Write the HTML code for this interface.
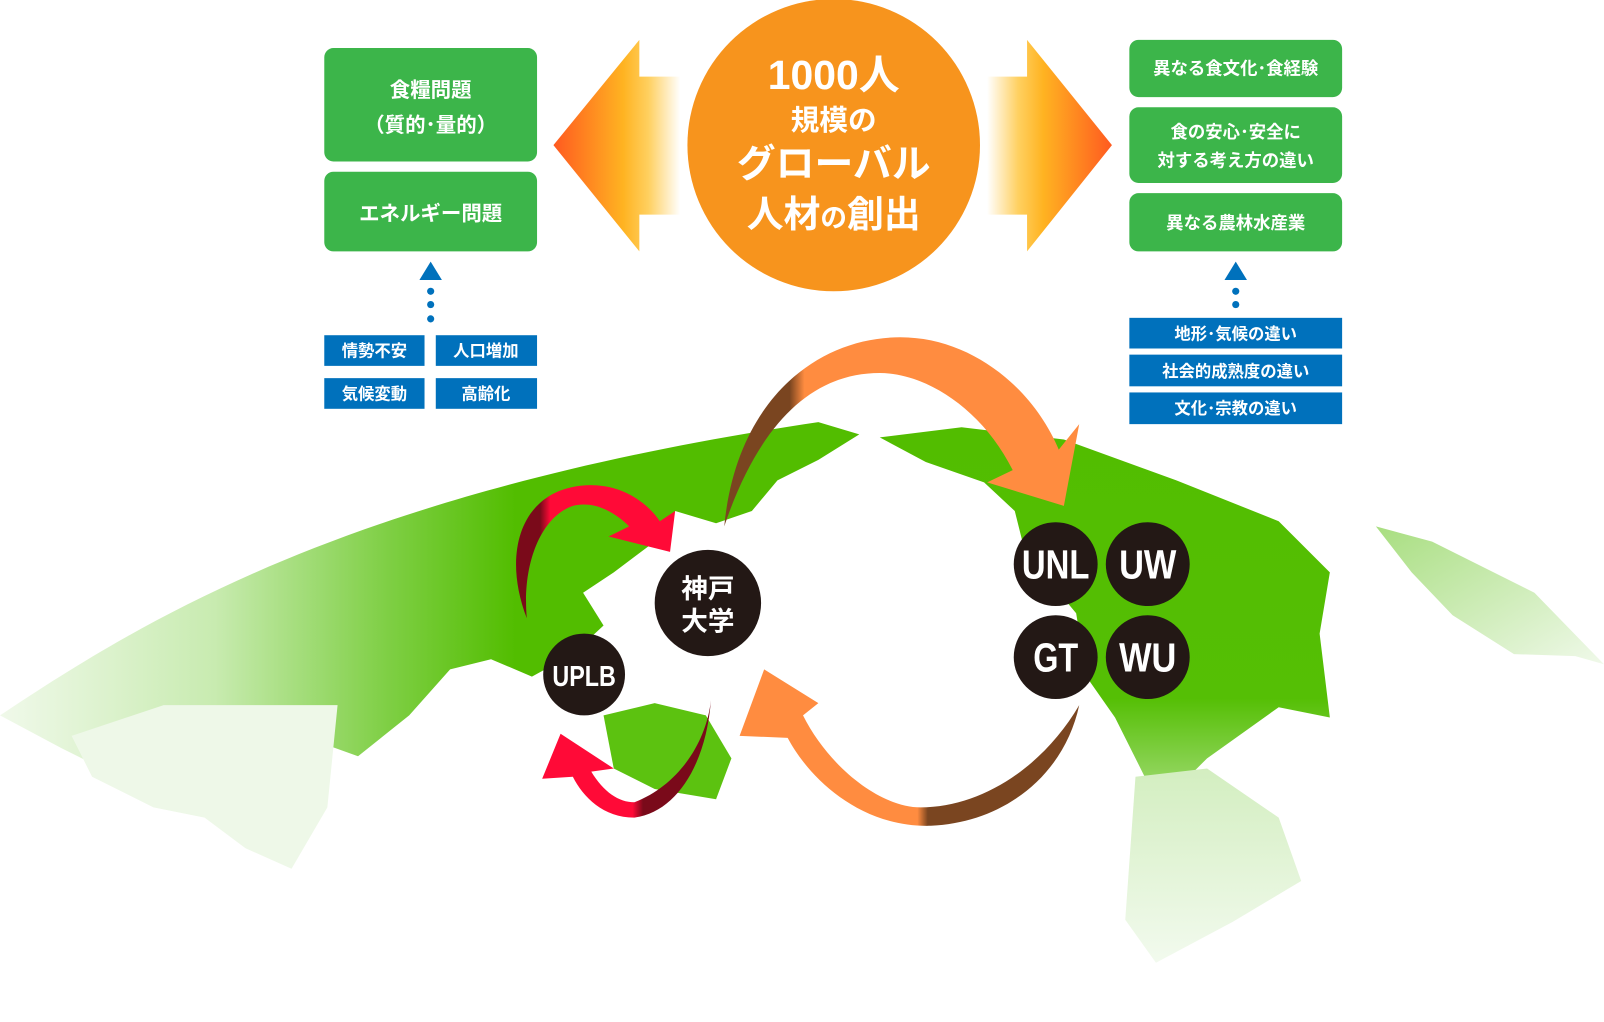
<!DOCTYPE html>
<html><head><meta charset="utf-8"><style>
html,body{margin:0;padding:0;background:#fff;}
svg{display:block;}
text{font-family:"Liberation Sans","Noto Sans CJK JP",sans-serif;font-weight:bold;}
</style></head><body>
<svg width="1604" height="1022" viewBox="0 0 1568 1000" preserveAspectRatio="none" xmlns="http://www.w3.org/2000/svg">
<defs>
<linearGradient id="eur" x1="0" y1="0" x2="1" y2="0">
<stop offset="0" stop-color="#f0f9ea"/><stop offset="0.25" stop-color="#c8ebb0"/><stop offset="0.45" stop-color="#7fcf45"/><stop offset="0.6" stop-color="#52bd00"/><stop offset="1" stop-color="#52bd00"/></linearGradient>
<linearGradient id="na" x1="0" y1="0" x2="0" y2="1">
<stop offset="0" stop-color="#52bd00"/><stop offset="0.75" stop-color="#55bf05"/><stop offset="1" stop-color="#9ad86a"/></linearGradient>
<linearGradient id="sa" x1="0" y1="0" x2="0" y2="1">
<stop offset="0" stop-color="#d3eec0"/><stop offset="1" stop-color="#f2faee"/></linearGradient>
<linearGradient id="gr" x1="0" y1="0" x2="1" y2="1">
<stop offset="0" stop-color="#a8de80"/><stop offset="1" stop-color="#f0f9ea"/></linearGradient>
<linearGradient id="la" x1="0" y1="0" x2="1" y2="0">
<stop offset="0" stop-color="#ff5a20"/><stop offset="0.55" stop-color="#ffb321"/><stop offset="0.75" stop-color="#ffd060"/><stop offset="1" stop-color="#fff"/></linearGradient>
<linearGradient id="ra" x1="1" y1="0" x2="0" y2="0">
<stop offset="0" stop-color="#ff5a20"/><stop offset="0.55" stop-color="#ffb321"/><stop offset="0.75" stop-color="#ffd060"/><stop offset="1" stop-color="#fff"/></linearGradient>
<linearGradient id="topArc" gradientUnits="userSpaceOnUse" x1="700" y1="0" x2="1060" y2="0">
<stop offset="0" stop-color="#7a4520"/><stop offset="0.2" stop-color="#7a4520"/><stop offset="0.24" stop-color="#ff8c40"/><stop offset="1" stop-color="#ff8c40"/></linearGradient>
<linearGradient id="botArc" gradientUnits="userSpaceOnUse" x1="720" y1="0" x2="1060" y2="0">
<stop offset="0" stop-color="#ff8c40"/><stop offset="0.52" stop-color="#ff8c40"/><stop offset="0.55" stop-color="#7a4520"/><stop offset="1" stop-color="#7a4520"/></linearGradient>
<linearGradient id="redTop" gradientUnits="userSpaceOnUse" x1="495" y1="0" x2="660" y2="0">
<stop offset="0" stop-color="#7a0a1a"/><stop offset="0.2" stop-color="#7a0a1a"/><stop offset="0.26" stop-color="#ff0a37"/><stop offset="1" stop-color="#ff0a37"/></linearGradient>
<linearGradient id="redBot" gradientUnits="userSpaceOnUse" x1="530" y1="0" x2="700" y2="0">
<stop offset="0" stop-color="#ff0a37"/><stop offset="0.52" stop-color="#ff0a37"/><stop offset="0.58" stop-color="#7a0a1a"/><stop offset="1" stop-color="#7a0a1a"/></linearGradient>
</defs>

<!-- map -->
<path d="M0,700 C150,600 350,480 800,413 L840,425 L800,450 L760,470 L735,500 L700,512 L660,500 L640,530 L600,560 L570,580 L590,612 L560,640 L520,662 L480,645 L440,655 L400,700 L350,740 L300,722 L250,705 L200,742 L120,762 L60,732 Z" fill="url(#eur)"/>
<path d="M70,720 L160,690 L330,690 L320,790 L285,850 L240,830 L200,800 L150,790 L90,760 Z" fill="#eef8e8"/>
<path d="M860,428 L940,418 L1040,430 L1150,470 L1250,510 L1300,560 L1290,620 L1300,702 L1250,692 L1180,742 L1150,772 L1120,762 L1090,702 L1062,662 L1052,600 L1002,540 L992,500 L962,472 L905,452 Z" fill="url(#na)"/>
<path d="M1110,760 L1180,752 L1250,800 L1272,862 L1205,902 L1130,942 L1100,900 Z" fill="url(#sa)"/>
<path d="M590,700 L640,688 L690,700 L715,742 L700,782 L640,772 L600,752 Z" fill="#5cc210"/>
<path d="M1345,515 L1400,530 L1500,580 L1568,650 L1540,642 L1480,640 L1420,602 L1380,560 Z" fill="url(#gr)"/>

<!-- top orange arrows -->
<polygon points="541,142 625,39 625,75 665,75 665,210 625,210 625,246" fill="url(#la)"/>
<polygon points="1087,142 1004,39 1004,75 965,75 965,210 1004,210 1004,246" fill="url(#ra)"/>

<!-- center circle -->
<circle cx="815" cy="142" r="143" fill="#f7941d"/>
<text x="815" y="87" fill="#fff" font-size="40" text-anchor="middle">1000人</text>
<text x="815" y="127" fill="#fff" font-size="28" text-anchor="middle">規模の</text>
<text x="815" y="173" fill="#fff" font-size="38" text-anchor="middle">グローバル</text>
<text x="815" y="222" fill="#fff" font-size="36" text-anchor="middle">人材<tspan font-size="26">の</tspan>創出</text>

<!-- left boxes -->
<rect x="317" y="47" width="208" height="111" rx="9" fill="#3cb54a"/>
<text x="421" y="95" fill="#fff" font-size="20" text-anchor="middle">食糧問題</text>
<text x="421" y="129" fill="#fff" font-size="20" text-anchor="middle">（質的･量的）</text>
<rect x="317" y="168" width="208" height="78" rx="9" fill="#3cb54a"/>
<text x="421" y="216" fill="#fff" font-size="20" text-anchor="middle">エネルギー問題</text>
<polygon points="421,256 410,274 432,274" fill="#0071bc"/>
<circle cx="421" cy="285" r="3.5" fill="#0071bc"/><circle cx="421" cy="298" r="3.5" fill="#0071bc"/><circle cx="421" cy="312" r="3.5" fill="#0071bc"/>
<rect x="317" y="328" width="98" height="30" fill="#0071bc"/><text x="366" y="349" fill="#fff" font-size="16" text-anchor="middle">情勢不安</text>
<rect x="426" y="328" width="99" height="30" fill="#0071bc"/><text x="475" y="349" fill="#fff" font-size="16" text-anchor="middle">人口増加</text>
<rect x="317" y="370" width="98" height="30" fill="#0071bc"/><text x="366" y="391" fill="#fff" font-size="16" text-anchor="middle">気候変動</text>
<rect x="426" y="370" width="99" height="30" fill="#0071bc"/><text x="475" y="391" fill="#fff" font-size="16" text-anchor="middle">高齢化</text>

<!-- right boxes -->
<rect x="1104" y="39" width="208" height="56" rx="9" fill="#3cb54a"/>
<text x="1208" y="73" fill="#fff" font-size="17" text-anchor="middle">異なる食文化･食経験</text>
<rect x="1104" y="105" width="208" height="74" rx="9" fill="#3cb54a"/>
<text x="1208" y="135" fill="#fff" font-size="17" text-anchor="middle">食の安心･安全に</text>
<text x="1208" y="163" fill="#fff" font-size="17" text-anchor="middle">対する考え方の違い</text>
<rect x="1104" y="189" width="208" height="57" rx="9" fill="#3cb54a"/>
<text x="1208" y="224" fill="#fff" font-size="17" text-anchor="middle">異なる農林水産業</text>
<polygon points="1208,256 1197,274 1219,274" fill="#0071bc"/>
<circle cx="1208" cy="285" r="3.5" fill="#0071bc"/><circle cx="1208" cy="298" r="3.5" fill="#0071bc"/>
<rect x="1104" y="311" width="208" height="30" fill="#0071bc"/><text x="1208" y="332" fill="#fff" font-size="16" text-anchor="middle">地形･気候の違い</text>
<rect x="1104" y="347" width="208" height="31" fill="#0071bc"/><text x="1208" y="369" fill="#fff" font-size="16" text-anchor="middle">社会的成熟度の違い</text>
<rect x="1104" y="384" width="208" height="31" fill="#0071bc"/><text x="1208" y="405" fill="#fff" font-size="16" text-anchor="middle">文化･宗教の違い</text>

<!-- curved arrows -->
<path d="M708,515 C720,390 800,330 880,330 C950,330 1010,380 1035,440 L1055,415 L1040,495 L965,472 L990,460 C960,400 905,365 860,365 C790,365 740,420 708,515 Z" fill="url(#topArc)"/>
<path d="M1055,690 C1040,760 980,805 910,808 C840,810 790,760 770,722 L723,720 L747,655 L800,688 L785,700 C810,750 860,790 900,790 C960,790 1020,750 1055,690 Z" fill="url(#botArc)"/>
<path d="M515,605 C490,540 510,480 570,475 C610,472 635,495 645,510 L660,500 L655,540 L595,525 L615,515 C600,500 580,490 560,495 C530,505 510,550 515,605 Z" fill="url(#redTop)"/>
<path d="M695,685 C690,750 660,795 620,800 C590,800 570,780 560,760 L530,762 L548,718 L600,752 L578,755 C590,775 605,785 620,785 C660,770 690,730 695,685 Z" fill="url(#redBot)"/>

<!-- universities -->
<circle cx="692" cy="590" r="52" fill="#231815"/>
<text x="692" y="585" fill="#fff" font-size="26" text-anchor="middle">神戸</text>
<text x="692" y="617" fill="#fff" font-size="26" text-anchor="middle">大学</text>
<circle cx="571" cy="660" r="40" fill="#231815"/>
<text x="571" y="671" fill="#fff" font-size="28" text-anchor="middle" textLength="62" lengthAdjust="spacingAndGlyphs">UPLB</text>
<circle cx="1032" cy="552" r="41" fill="#231815"/>
<text x="1032" y="566" fill="#fff" font-size="40" text-anchor="middle" textLength="66" lengthAdjust="spacingAndGlyphs">UNL</text>
<circle cx="1122" cy="552" r="41" fill="#231815"/>
<text x="1122" y="566" fill="#fff" font-size="40" text-anchor="middle" textLength="56" lengthAdjust="spacingAndGlyphs">UW</text>
<circle cx="1032" cy="643" r="41" fill="#231815"/>
<text x="1032" y="657" fill="#fff" font-size="40" text-anchor="middle" textLength="44" lengthAdjust="spacingAndGlyphs">GT</text>
<circle cx="1122" cy="643" r="41" fill="#231815"/>
<text x="1122" y="657" fill="#fff" font-size="40" text-anchor="middle" textLength="56" lengthAdjust="spacingAndGlyphs">WU</text>
</svg>
</body></html>
